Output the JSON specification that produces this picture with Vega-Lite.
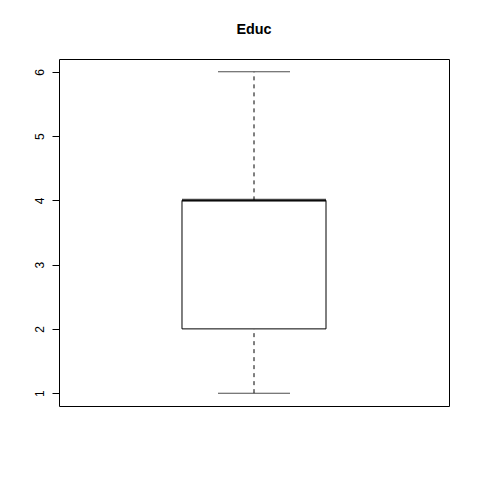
{
  "$schema": "https://vega.github.io/schema/vega-lite/v6.json",
  "autosize": "none",
  "width": 390,
  "height": 347,
  "padding": {"left": 59, "top": 59, "right": 31, "bottom": 74},
  "background": "white",
  "config": {
    "font": "Liberation Sans",
    "view": {"stroke": "black", "strokeWidth": 1}
  },
  "title": {
    "text": "Educ",
    "font": "Liberation Sans",
    "fontSize": 14.4,
    "fontWeight": "bold",
    "color": "black",
    "anchor": "middle",
    "offset": 22
  },
  "data": {
    "values": [
      {"var": "Educ", "min": 1, "q1": 2, "median": 4, "q3": 4, "max": 6}
    ]
  },
  "encoding": {
    "x": {
      "field": "var",
      "type": "nominal",
      "scale": {"paddingInner": 0, "paddingOuter": 0.854},
      "axis": null
    }
  },
  "layer": [
    {
      "mark": {"type": "rule", "strokeDash": [4, 4], "strokeWidth": 1, "color": "black"},
      "encoding": {
        "y": {
          "field": "min",
          "type": "quantitative",
          "scale": {"domain": [0.8, 6.2], "nice": false, "zero": false},
          "axis": {
            "title": null,
            "grid": false,
            "domain": false,
            "values": [1, 2, 3, 4, 5, 6],
            "format": "d",
            "tickSize": 7,
            "tickColor": "black",
            "labelAngle": -90,
            "labelFontSize": 12,
            "labelColor": "black",
            "labelPadding": 6,
            "labelFont": "Liberation Sans"
          }
        },
        "y2": {"field": "q1"}
      }
    },
    {
      "mark": {"type": "rule", "strokeDash": [4, 4], "strokeWidth": 1, "color": "black"},
      "encoding": {
        "y": {"field": "q3", "type": "quantitative"},
        "y2": {"field": "max"}
      }
    },
    {
      "mark": {"type": "bar", "fill": "white", "stroke": "black", "strokeWidth": 1},
      "encoding": {
        "y": {"field": "q1", "type": "quantitative"},
        "y2": {"field": "q3"}
      }
    },
    {
      "mark": {"type": "tick", "color": "black", "size": 72, "thickness": 1, "orient": "horizontal"},
      "encoding": {"y": {"field": "min", "type": "quantitative"}}
    },
    {
      "mark": {"type": "tick", "color": "black", "size": 72, "thickness": 1, "orient": "horizontal"},
      "encoding": {"y": {"field": "max", "type": "quantitative"}}
    },
    {
      "mark": {"type": "tick", "color": "black", "size": 144, "thickness": 3, "orient": "horizontal"},
      "encoding": {"y": {"field": "median", "type": "quantitative"}}
    }
  ]
}
